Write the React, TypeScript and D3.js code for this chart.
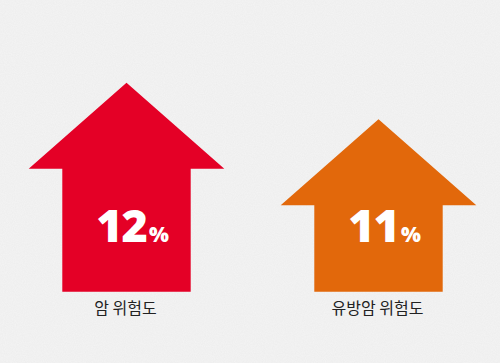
import React from "react";
import * as d3 from "d3";

const categories = ["암 위험도", "유방암 위험도"];
const values = [12, 11];
const colors = ["#e40026", "#e2680b"];

const W = 500;
const H = 363;

export default function App() {
  const x = d3.scaleBand<string>().domain(categories).range([0.5, 504.5]).padding(0);
  const y = d3.scaleLinear().domain([6.29, 12]).range([291.7, 82.7]);
  const headHalf = 97.8;
  const shaftHalf = 64.2;
  const headH = 86;
  const base = y(6.29);

  const arrowPath = (cx: number, top: number) => {
    const p = d3.path();
    p.moveTo(cx, top);
    p.lineTo(cx + headHalf, top + headH);
    p.lineTo(cx + shaftHalf, top + headH);
    p.lineTo(cx + shaftHalf, base);
    p.lineTo(cx - shaftHalf, base);
    p.lineTo(cx - shaftHalf, top + headH);
    p.lineTo(cx - headHalf, top + headH);
    p.closePath();
    return p.toString();
  };

  return (
    <svg
      width={W}
      height={H}
      viewBox={`0 0 ${W} ${H}`}
      style={{ position: "absolute", left: 0, top: 0, display: "block" }}
    >
      <defs>
        <filter id="noise" x="0" y="0" width="100%" height="100%">
          <feTurbulence type="fractalNoise" baseFrequency="0.9" numOctaves="2" seed="3" result="n" />
          <feColorMatrix type="matrix" values="0 0 0 0 0  0 0 0 0 0  0 0 0 0 0  0 0 0 0.03 0" />
        </filter>
      </defs>
      <rect x={0} y={0} width={W} height={H} fill="#f4f4f4" />
      <rect x={0} y={0} width={W} height={H} filter="url(#noise)" />
      {categories.map((c, i) => {
        const cx = (x(c) as number) + x.bandwidth() / 2;
        const top = y(values[i]);
        return (
          <g key={c}>
            <path d={arrowPath(cx, top)} fill={colors[i]} />
            <text
              x={cx + 6}
              y={241.7}
              textAnchor="middle"
              fill="#ffffff"
              fontFamily="'Noto Sans', Roboto, sans-serif"
              fontWeight={900}
            >
              <tspan fontSize={45} letterSpacing={-1}>{values[i]}</tspan>
              <tspan fontSize={21} dx={2}>%</tspan>
            </text>
            <text
              x={cx - 1}
              y={314}
              textAnchor="middle"
              fill="#222222"
              fontSize={16}
              fontFamily="'Noto Sans CJK KR', sans-serif"
            >
              {c}
            </text>
          </g>
        );
      })}
    </svg>
  );
}
